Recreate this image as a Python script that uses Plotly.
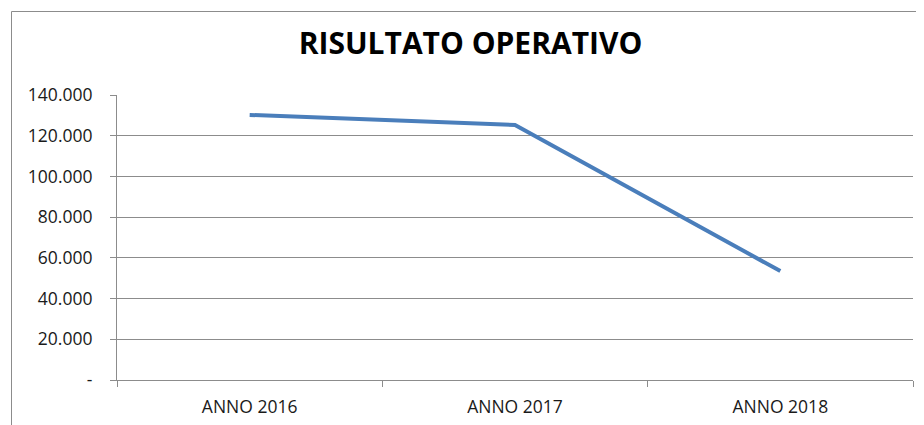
import plotly.graph_objects as go

categories = ["ANNO 2016", "ANNO 2017", "ANNO 2018"]
risultato = [130200, 125300, 53500]
y_tickvals = [0, 20000, 40000, 60000, 80000, 100000, 120000, 140000]
y_ticktext = ["-", "20.000", "40.000", "60.000", "80.000", "100.000", "120.000", "140.000"]
title_text = "RISULTATO OPERATIVO"

# page body has an 8px margin: the figure starts at (8, 8) of the window
OFF = 8
W, H = 924 - OFF, 425 - OFF
L, R, T, B = 117 - OFF, 11, 95 - OFF, 45
pw, ph = W - L - R, H - T - B

def px_x(x):
    return (x - OFF - L) / pw

def px_y(y):
    return (H - B - (y - OFF)) / ph

fig = go.Figure()
fig.add_trace(go.Scatter(
    x=categories, y=risultato, mode="lines",
    line=dict(color="#4A7EBB", width=4),
    hoverinfo="skip", showlegend=False,
))

fig.update_layout(
    width=W, height=H,
    margin=dict(l=L, r=R, t=T, b=B, pad=0, autoexpand=False),
    paper_bgcolor="white", plot_bgcolor="white",
    font=dict(family="Open Sans", size=17.5, color="#1a1a1a"),
    title=dict(text="<b>" + title_text + "</b>", x=(470.5 - OFF) / W, xanchor="center",
               y=1 - (43.5 - OFF) / H, yanchor="middle",
               font=dict(family="Open Sans", size=30, color="#000000")),
    showlegend=False,
    shapes=[dict(type="rect", xref="paper", yref="paper",
                 x0=px_x(11.5), x1=px_x(940), y0=px_y(11.5), y1=px_y(440),
                 line=dict(color="#8c8c8c", width=1), fillcolor="rgba(0,0,0,0)",
                 layer="below")],
)

fig.update_xaxes(
    type="category", range=[-0.5, 2.5], showgrid=False, showline=True,
    linecolor="#8c8c8c", linewidth=1,
    ticks="outside", tickson="boundaries", ticklen=6, tickcolor="#8c8c8c",
    tickfont=dict(family="Open Sans", size=17.5, color="#1a1a1a"),
    ticklabelstandoff=11, zeroline=False, fixedrange=True, automargin=False,
)
fig.update_yaxes(
    range=[0, 140000], tickvals=y_tickvals, ticktext=y_ticktext,
    showgrid=True, gridcolor="#8c8c8c", gridwidth=1,
    showline=True, linecolor="#8c8c8c", linewidth=1,
    ticks="outside", ticklen=6, tickcolor="#8c8c8c",
    tickfont=dict(family="Open Sans", size=17.5, color="#1a1a1a"),
    ticklabelstandoff=14, zeroline=False, fixedrange=True, automargin=False,
)

fig.write_html("out.html")
